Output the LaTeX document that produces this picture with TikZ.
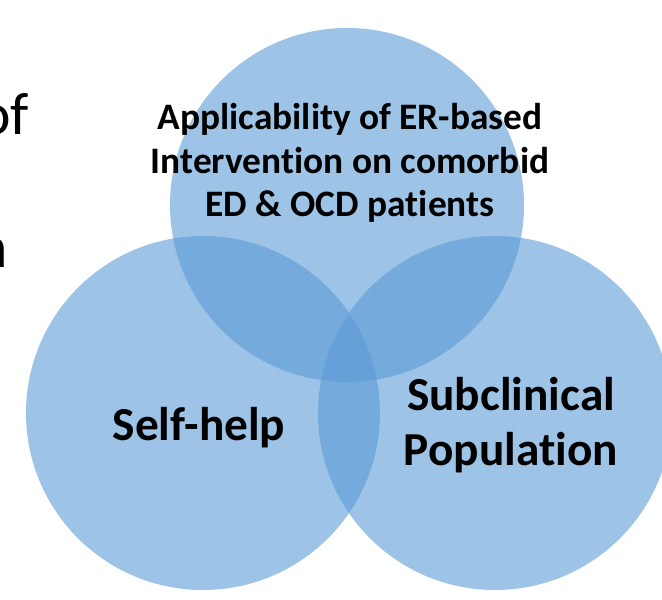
\documentclass[tikz,border=0pt]{standalone}
\usepackage{fontspec}
\setmainfont{Carlito}[Ligatures=NoCommon]
\definecolor{vennblue}{HTML}{5B9BD5}
\begin{document}
\begin{tikzpicture}[x=1bp,y=1bp,
  venn/.style={fill=vennblue,fill opacity=0.6,draw=none},
  lbl/.style={inner sep=0pt,align=center,text=black},
  slidetext/.style={inner sep=0pt,text=black}]
  \useasboundingbox (0,0) rectangle (662,600);
  % three overlapping sets
  \fill[venn] (347,395) circle (177);
  \fill[venn] (203,187) circle (177);
  \fill[venn] (495,187) circle (177);
  % set labels
  \node[lbl,font=\fontsize{37.5}{44}\selectfont\bfseries] (top) at (350,437)
    {Applicability of ER-based\\Intervention on comorbid\\ED \& OCD patients};
  \node[lbl,font=\fontsize{47.5}{55}\selectfont\bfseries] (left) at (199,172) {Self-help};
  \node[lbl,font=\fontsize{47.5}{55}\selectfont\bfseries] (right) at (511,175)
    {Subclinical\\Population};
  % slide text running in from the left edge
  \node[slidetext,anchor=base east,font=\fontsize{60}{72}\selectfont] (of) at (29,465) {of};
  \node[slidetext,anchor=base east,font=\fontsize{60}{72}\selectfont] (n) at (8,332) {n};
\end{tikzpicture}
\end{document}
